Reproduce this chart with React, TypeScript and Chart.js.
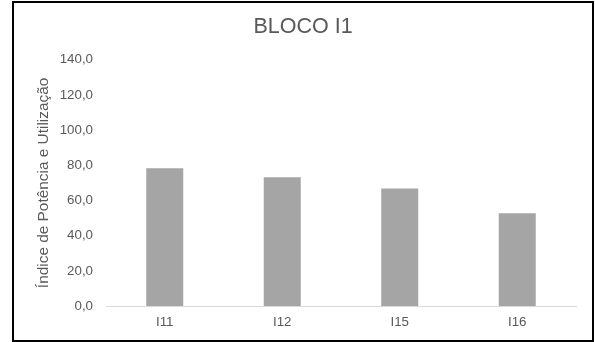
import React, { useEffect, useRef } from "react";
import { Chart, registerables } from "chart.js";

Chart.register(...registerables);

const categories = ["I11", "I12", "I15", "I16"];
const indexValues = [78.4, 73.2, 66.8, 52.8];
const yTicks = [0, 20, 40, 60, 80, 100, 120, 140];

const FONT = "'Liberation Sans', Arial, sans-serif";
const TEXT = "#595959";

export default function App() {
  const canvasRef = useRef<HTMLCanvasElement | null>(null);

  useEffect(() => {
    const canvas = canvasRef.current;
    if (!canvas) return;
    const chart = new Chart(canvas, {
      type: "bar",
      data: {
        labels: categories,
        datasets: [
          {
            label: "Índice",
            data: indexValues,
            backgroundColor: "#a5a5a5",
            borderWidth: 0,
            categoryPercentage: 1,
            barPercentage: 0.315,
          },
        ],
      },
      options: {
        responsive: false,
        animation: false,
        events: [],
        layout: { padding: { left: 30, right: 19, top: 0, bottom: 12 } },
        plugins: {
          legend: { display: false },
          tooltip: { enabled: false },
          title: {
            display: true,
            text: "BLOCO I1",
            color: TEXT,
            font: { family: FONT, size: 21.5, weight: "normal" },
            padding: { top: 14, bottom: 20 },
          },
        },
        scales: {
          x: {
            grid: { display: false, drawTicks: false },
            border: { display: true, color: "#d9d9d9", width: 1 },
            ticks: {
              color: TEXT,
              font: { family: FONT, size: 13.33 },
              padding: 8,
            },
            afterFit: (scale: any) => {
              scale.height = 24;
            },
          },
          y: {
            min: 0,
            max: 140,
            grid: { display: false, drawTicks: false },
            border: { display: false },
            afterBuildTicks: (scale: any) => {
              scale.ticks = yTicks.map((v) => ({ value: v }));
            },
            ticks: {
              color: TEXT,
              font: { family: FONT, size: 13.33 },
              padding: 13,
              callback: (v: any) => Number(v).toFixed(1).replace(".", ","),
            },
            title: {
              display: true,
              text: "Índice de Potência e Utilização",
              color: TEXT,
              font: { family: FONT, size: 15.4 },
              padding: { top: 5, bottom: 0 },
            },
            afterFit: (scale: any) => {
              scale.width = 76;
            },
          },
        },
      },
    });
    return () => chart.destroy();
  }, []);

  return (
    <div
      style={{
        position: "absolute",
        left: 0,
        top: 0,
        width: 595,
        height: 342,
        background: "#fff",
        overflow: "hidden",
      }}
    >
      <canvas
        ref={canvasRef}
        width={595}
        height={342}
        style={{ position: "absolute", left: 0, top: 0, width: 595, height: 342 }}
      />
      <div
        style={{
          position: "absolute",
          left: 12,
          top: 1,
          width: 582,
          height: 341,
          boxSizing: "border-box",
          border: "2px solid #000",
          pointerEvents: "none",
        }}
      />
    </div>
  );
}
